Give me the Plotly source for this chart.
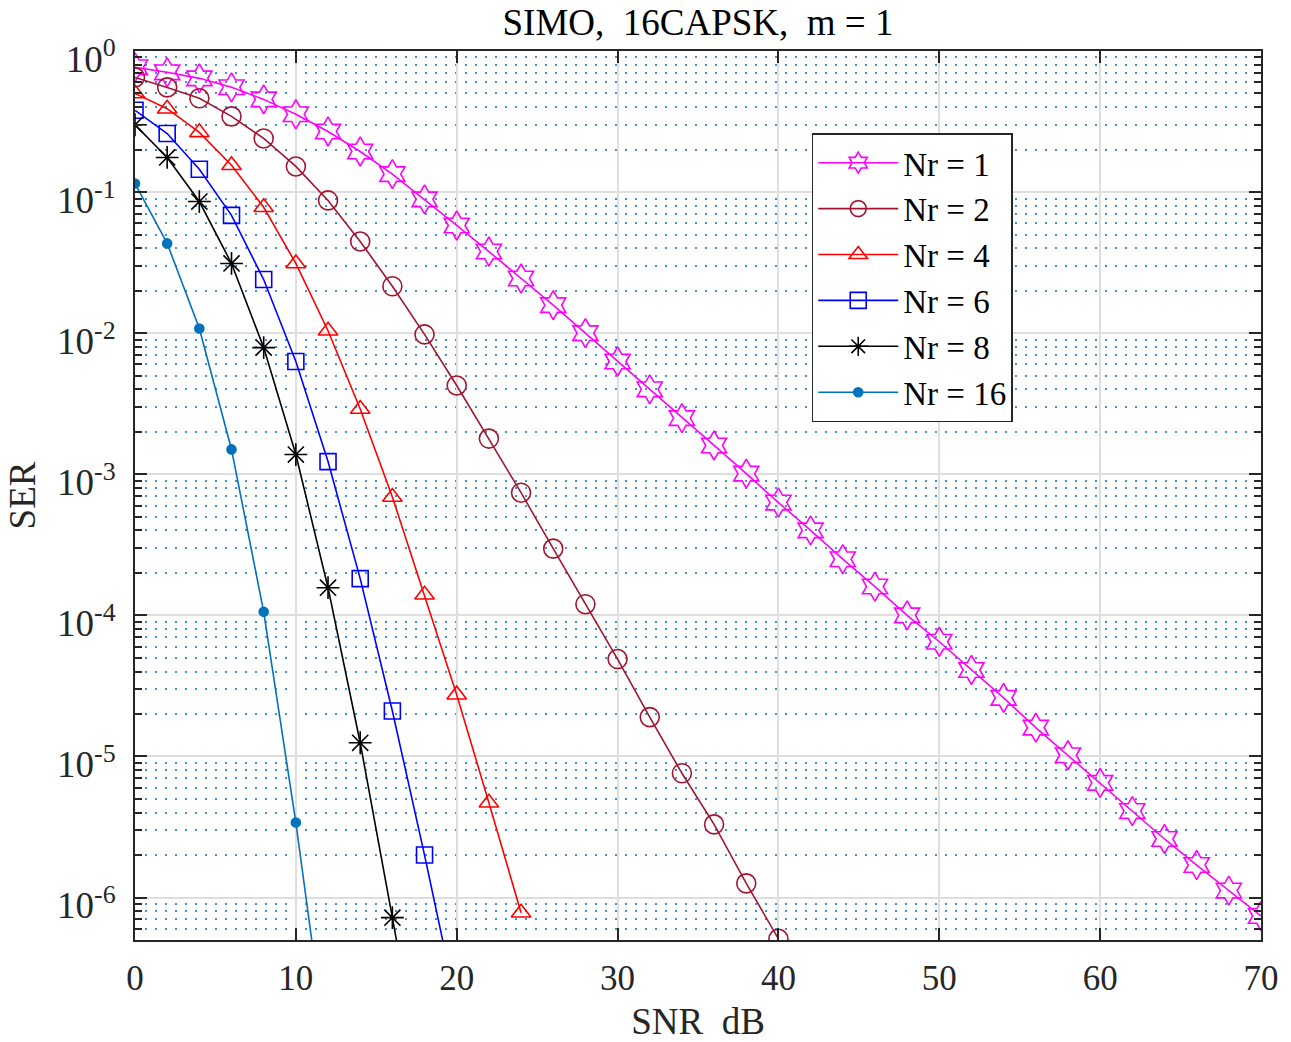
import numpy as np
import plotly.graph_objects as go

snr_1 = list(range(0, 71, 2))
ser_1 = [0.766, 0.706, 0.64, 0.553, 0.454, 0.356, 0.269, 0.194, 0.134, 0.0888,
         0.058, 0.0379, 0.0244, 0.0158, 0.0100, 0.0063, 0.0040, 0.0025, 0.0016, 0.00101,
         6.3e-4, 4.0e-4, 2.5e-4, 1.6e-4, 1.0e-4, 6.5e-5, 4.1e-5, 2.6e-5, 1.6e-5, 1.02e-5,
         6.5e-6, 4.1e-6, 2.6e-6, 1.7e-6, 1.12e-6, 7.4e-7]

snr_2 = list(range(0, 41, 2))
ser_2 = [0.65, 0.552, 0.462, 0.344, 0.240, 0.152, 0.0873, 0.0447, 0.0215, 0.0098,
         0.00426, 0.00179, 7.4e-4, 2.97e-4, 1.2e-4, 4.9e-5, 1.9e-5, 7.6e-6, 3.3e-6, 1.26e-6,
         5.1e-7]

snr_4 = list(range(0, 25, 2))
ser_4 = [0.50, 0.39, 0.265, 0.155, 0.078, 0.0312, 0.0104, 0.0029, 6.9e-4, 1.4e-4,
         2.74e-5, 4.7e-6, 7.8e-7]

snr_6 = list(range(0, 21, 2))
ser_6 = [0.38, 0.26, 0.145, 0.0684, 0.024, 0.0063, 0.00123, 1.82e-4, 2.1e-5, 2.0e-6, 1.7e-7]

snr_8 = list(range(0, 19, 2))
ser_8 = [0.30, 0.176, 0.0857, 0.0312, 0.0079, 0.00138, 1.57e-4, 1.25e-5, 7.2e-7, 4e-8]

snr_16 = list(range(0, 13, 2))
ser_16 = [0.115, 0.0433, 0.0108, 0.0015, 1.06e-4, 3.4e-6, 7e-8]

names = ["Nr = 1", "Nr = 2", "Nr = 4", "Nr = 6", "Nr = 8", "Nr = 16"]

FONT = "Liberation Serif, Times New Roman, serif"

series = [
    (snr_1, ser_1, names[0], "#FF00FF", "hexagram-open", 22, 1.6),
    (snr_2, ser_2, names[1], "#A2142F", "circle-open", 19, 1.6),
    (snr_4, ser_4, names[2], "#FF0000", "triangle-up-open", 17, 1.6),
    (snr_6, ser_6, names[3], "#0000FF", "square-open", 16, 1.6),
    (snr_8, ser_8, names[4], "#000000", "asterisk-open", 19, 1.6),
    (snr_16, ser_16, names[5], "#0072BD", "circle", 9, 1.6),
]

fig = go.Figure()
for x, y, nm, col, sym, sz, lw in series:
    fig.add_trace(go.Scatter(
        x=x, y=y, name=nm, mode="lines+markers",
        line=dict(color=col, width=lw),
        marker=dict(symbol=sym, size=sz, color=col, line=dict(color=col, width=1.6)),
    ))

major_vals = [10.0 ** k for k in range(-6, 1)]
major_text = ["10<sup>%d</sup>" % k for k in range(-6, 1)]
minor_vals = [d * 10.0 ** k for k in range(-7, 0) for d in range(2, 10)]

axis_col = "#262626"

fig.update_xaxes(
    range=[0, 70], tickmode="linear", tick0=0, dtick=10,
    ticks="inside", ticklen=12, tickwidth=1.5, tickcolor=axis_col,
    showline=True, linecolor=axis_col, linewidth=2, mirror="allticks",
    showgrid=True, gridcolor="#dedede", gridwidth=1.5,
    zeroline=False, ticklabelstandoff=6, automargin=False,
    tickfont=dict(family=FONT, size=35, color="#262626"),
    title=dict(text="SNR\u00a0 dB", font=dict(family=FONT, size=37, color="#262626"), standoff=20),
)
fig.update_yaxes(
    type="log", range=[np.log10(5e-7), 0],
    tickmode="array", tickvals=major_vals, ticktext=major_text,
    ticks="inside", ticklen=12, tickwidth=1.5, tickcolor=axis_col,
    showline=True, linecolor=axis_col, linewidth=2, mirror="allticks",
    showgrid=True, gridcolor="#dedede", gridwidth=1.5,
    zeroline=False, ticklabelstandoff=10, ticklabelshift=8, automargin=False,
    minor=dict(tickmode="array", tickvals=minor_vals, ticks="inside", ticklen=7,
               tickwidth=1.5, tickcolor=axis_col,
               showgrid=True, gridcolor="#3d8fd6", gridwidth=1.6, griddash="2px,8px"),
    tickfont=dict(family=FONT, size=37, color="#262626"),
    title=dict(text="SER", font=dict(family=FONT, size=37, color="#262626"), standoff=10),
)

fig.update_layout(
    width=1291, height=1042,
    margin=dict(l=135, r=30, t=51, b=102, autoexpand=False),
    paper_bgcolor="white", plot_bgcolor="white",
    font=dict(family=FONT, color="#262626"),
    title=dict(text="SIMO,\u00a0 16CAPSK,\u00a0 m = 1", x=0.5, xref="paper",
               y=1 - 22 / 1042, yanchor="middle",
               font=dict(family=FONT, size=37, color="#000000")),
    legend=dict(x=0.601, y=0.9075, xanchor="left", yanchor="top",
                bgcolor="white", bordercolor=axis_col, borderwidth=1.5,
                font=dict(family=FONT, size=33, color="#000000"),
                itemwidth=80, tracegroupgap=0),
    showlegend=True,
)

fig.write_html("out.html")
